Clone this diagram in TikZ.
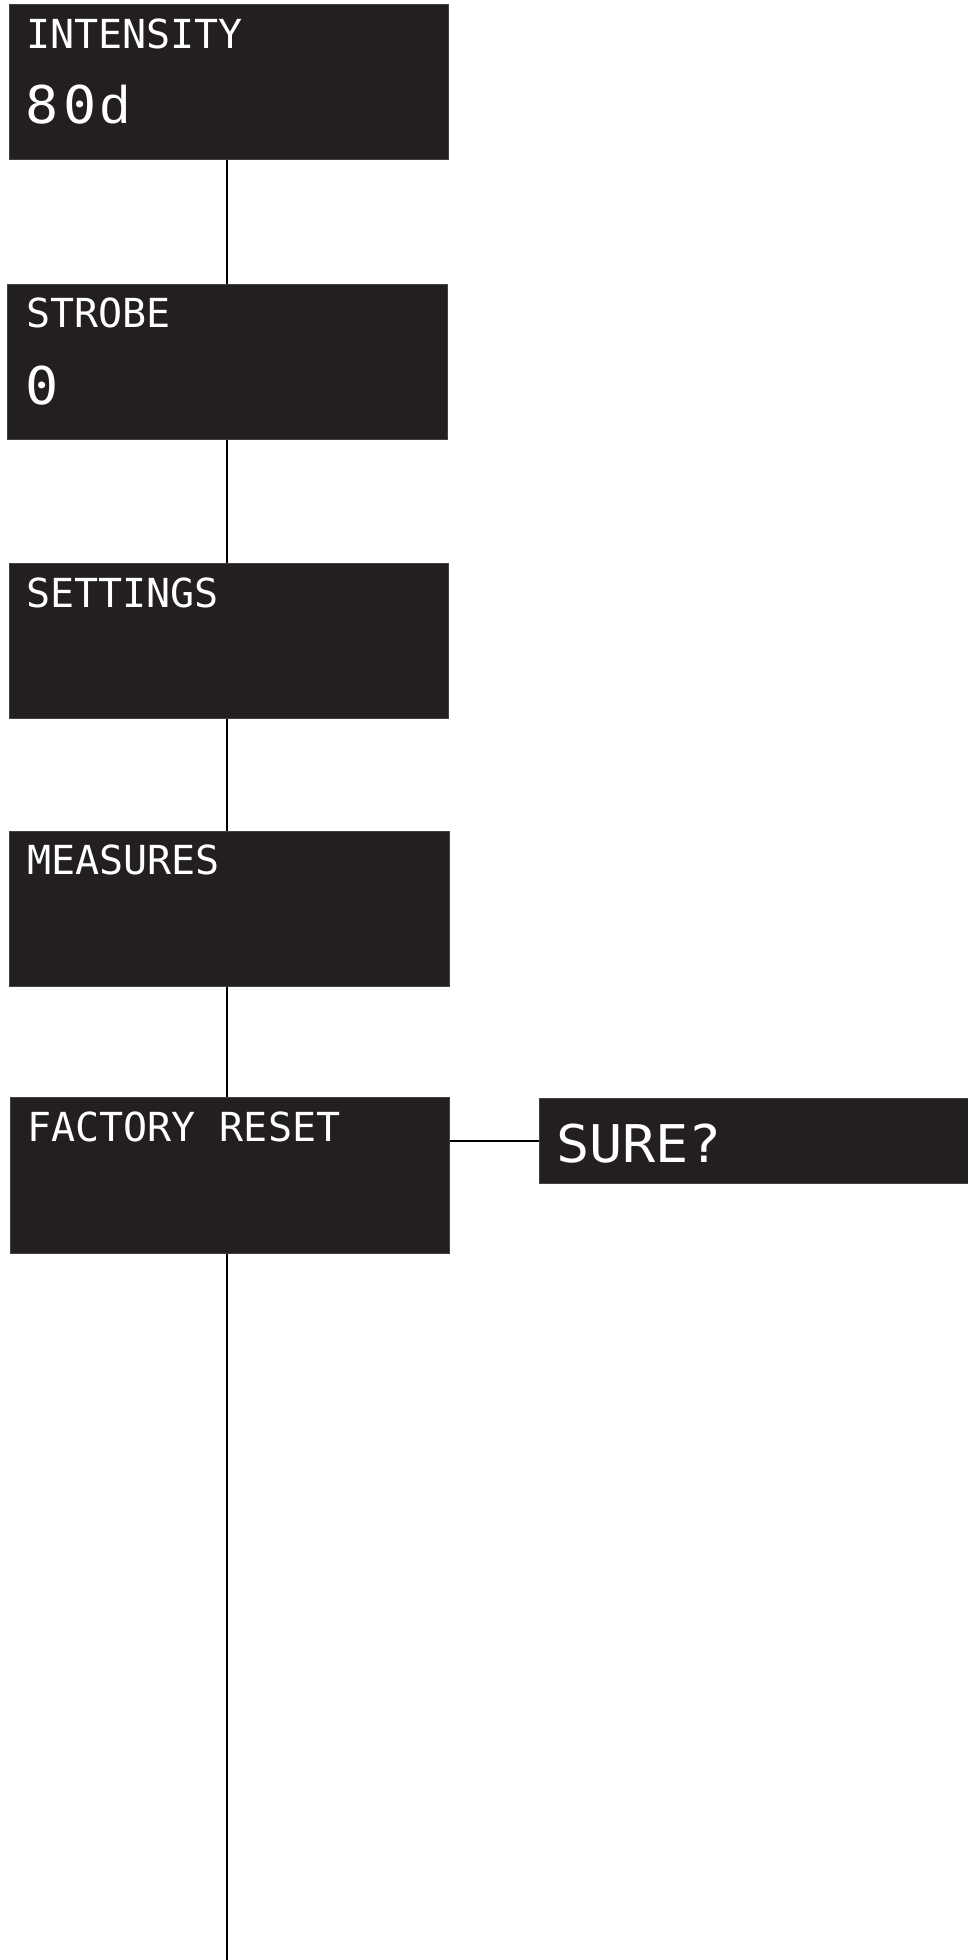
\documentclass[tikz,border=0pt]{standalone}
\usepackage{fontspec}
\setmainfont{Liberation Sans}
\newfontfamily\dotfont{DejaVu Sans Mono}
\newfontfamily\dotwide[FakeStretch=1.06]{DejaVu Sans Mono}
\newfontfamily\helvlike{Liberation Sans}
\definecolor{panel}{HTML}{231F20}
\begin{document}
\begin{tikzpicture}[x=1pt,y=-1pt,
  panelbox/.style={draw=panel!85!white, line width=0.8pt, fill=panel, inner sep=0pt, anchor=north west},
  dottext/.style={text=white, inner sep=0pt, anchor=base west, font=\dotfont\fontsize{40}{44}\selectfont},
  bigdot/.style={text=white, inner sep=0pt, anchor=base west, font=\dotwide\fontsize{52}{56}\selectfont},
  link/.style={draw=black, line width=2.4pt}]
\useasboundingbox (0,0) rectangle (968,1960);
\coordinate (spine) at (227,0);
\coordinate (bottom) at (227,1960);
% panels
\node[panelbox, minimum width=439pt, minimum height=155pt] (intensity) at (9,4) {};
\node[panelbox, minimum width=440pt, minimum height=155pt] (strobe) at (7,284) {};
\node[panelbox, minimum width=439pt, minimum height=155pt] (settings) at (9,563) {};
\node[panelbox, minimum width=440pt, minimum height=155pt] (measures) at (9,831) {};
\node[panelbox, minimum width=439pt, minimum height=156pt] (factory) at (10,1097) {};
\node[panelbox, minimum width=430pt, minimum height=85pt] (sure) at (539,1098) {};
% connectors
\draw[link] (intensity.south -| spine) -- (strobe.north -| spine);
\draw[link] (strobe.south -| spine) -- (settings.north -| spine);
\draw[link] (settings.south -| spine) -- (measures.north -| spine);
\draw[link] (measures.south -| spine) -- (factory.north -| spine);
\draw[link] (factory.south -| spine) -- (bottom);
\draw[link] (factory.east |- 0,1141) -- (sure.west |- 0,1141);
% texts
\node[dottext] (tInt) at (26,48) {INTENSITY};
\node[bigdot] (tIntVal) at (25,123) {8\hspace{5pt}0\hspace{4pt}{\helvlike\fontsize{53}{56}\selectfont d}};
\node[dottext] (tStr) at (26,327) {STROBE};
\node[bigdot] (tStrVal) at (25,404) {0};
\node[dottext] (tSet) at (26,607) {SETTINGS};
\node[dottext] (tMea) at (27,874) {MEASURES};
\node[dottext] (tFac) at (27,1141) {FACTORY RESET};
\node[bigdot] (tSure) at (556,1162) {SURE?};
\end{tikzpicture}
\end{document}
